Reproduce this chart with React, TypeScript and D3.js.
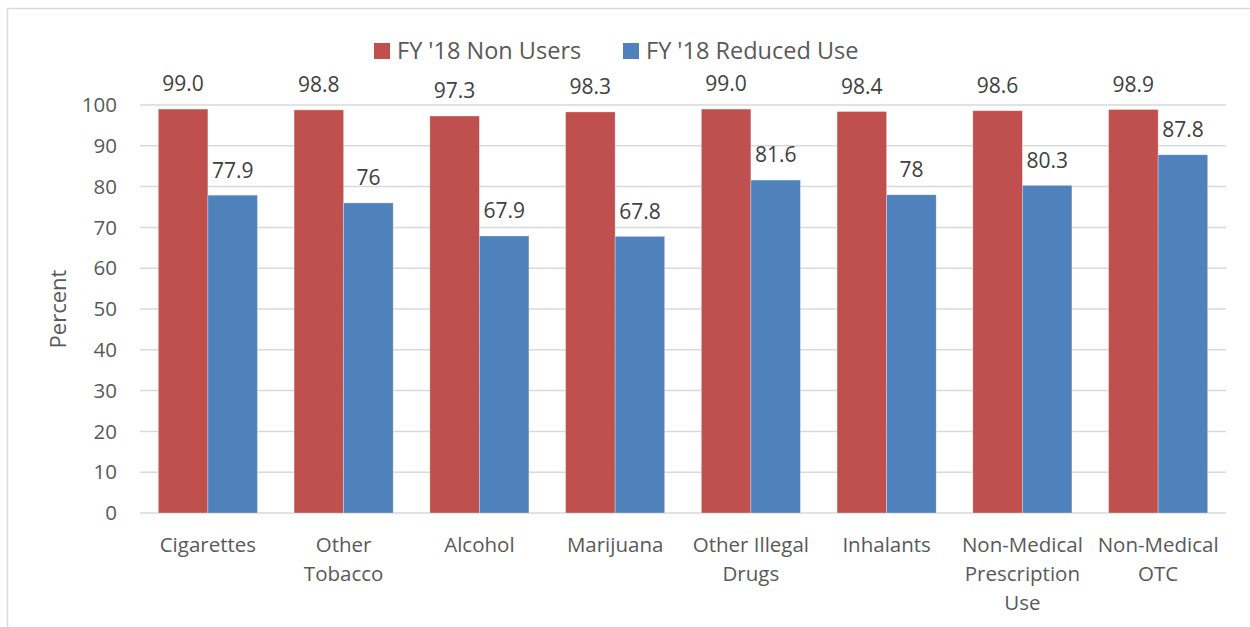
import * as d3 from "d3";
import { useEffect, useRef } from "react";

const categories = [
  ["Cigarettes"],
  ["Other", "Tobacco"],
  ["Alcohol"],
  ["Marijuana"],
  ["Other Illegal", "Drugs"],
  ["Inhalants"],
  ["Non-Medical", "Prescription", "Use"],
  ["Non-Medical", "OTC"],
];
const nonUsers = [99.0, 98.8, 97.3, 98.3, 99.0, 98.4, 98.6, 98.9];
const reducedUse = [77.9, 76, 67.9, 67.8, 81.6, 78, 80.3, 87.8];
const nonUsersLabels = ["99.0", "98.8", "97.3", "98.3", "99.0", "98.4", "98.6", "98.9"];
const reducedLabels = ["77.9", "76", "67.9", "67.8", "81.6", "78", "80.3", "87.8"];
const seriesNames = ["FY '18 Non Users", "FY '18 Reduced Use"];
const colors = ["#C0504D", "#4F81BD"];
const yTicks = [0, 10, 20, 30, 40, 50, 60, 70, 80, 90, 100];

const FONT = "'Open Sans', sans-serif";

export default function App() {
  const ref = useRef<SVGSVGElement>(null);

  useEffect(() => {
    if (!ref.current) return;
    document.body.style.margin = "0";
    const svg = d3.select(ref.current);
    svg.selectAll("*").remove();

    const width = 1250;
    const height = 627;
    const margin = { left: 140, right: 24, top: 105, bottom: 114 };

    svg.append("rect").attr("width", width).attr("height", height).attr("fill", "#fff");

    // chart frame
    svg
      .append("rect")
      .attr("x", 7.5)
      .attr("y", 8.5)
      .attr("width", width + 20)
      .attr("height", height + 20)
      .attr("fill", "none")
      .attr("stroke", "#d9d9d9")
      .attr("stroke-width", 1.5);

    const x = d3
      .scaleBand<number>()
      .domain(d3.range(categories.length))
      .range([margin.left, width - margin.right])
      .paddingInner(0.27)
      .paddingOuter(0.135);

    const x1 = d3
      .scaleBand<number>()
      .domain([0, 1])
      .range([0, x.bandwidth()]);

    const y = d3
      .scaleLinear()
      .domain([0, 100])
      .range([height - margin.bottom, margin.top]);

    // gridlines
    svg
      .append("g")
      .selectAll("line")
      .data(yTicks)
      .join("line")
      .attr("x1", margin.left)
      .attr("x2", width - margin.right)
      .attr("y1", (d) => y(d))
      .attr("y2", (d) => y(d))
      .attr("stroke", "#d9d9d9")
      .attr("stroke-width", 1.5);

    // y tick labels
    svg
      .append("g")
      .selectAll("text")
      .data(yTicks)
      .join("text")
      .attr("x", 117)
      .attr("y", (d) => y(d))
      .attr("dy", "0.35em")
      .attr("text-anchor", "end")
      .style("font-family", FONT)
      .style("font-size", "20.5px")
      .style("fill", "#595959")
      .text((d) => d);

    // y title
    svg
      .append("text")
      .attr("transform", `translate(58,${(y(0) + y(100)) / 2}) rotate(-90)`)
      .attr("text-anchor", "middle")
      .attr("dy", "0.35em")
      .style("font-family", FONT)
      .style("font-size", "22px")
      .style("fill", "#595959")
      .text("Percent");

    const series = [
      { values: nonUsers, labels: nonUsersLabels },
      { values: reducedUse, labels: reducedLabels },
    ];

    series.forEach((s, si) => {
      const g = svg.append("g");
      g.selectAll("rect")
        .data(s.values)
        .join("rect")
        .attr("x", (_, i) => x(i)! + x1(si)!)
        .attr("y", (d) => y(d))
        .attr("width", x1.bandwidth())
        .attr("height", (d) => y(0) - y(d))
        .attr("fill", colors[si])
        .attr("stroke", "#ffffff")
        .attr("stroke-opacity", 0.4)
        .attr("stroke-width", 0.75);

      g.selectAll("text")
        .data(s.values)
        .join("text")
        .attr("x", (_, i) => x(i)! + x1(si)! + x1.bandwidth() / 2)
        .attr("y", (d) => y(d) - 25)
        .attr("dy", "0.35em")
        .attr("text-anchor", "middle")
        .style("font-family", FONT)
        .style("font-size", "21px")
        .style("fill", "#404040")
        .text((_, i) => s.labels[i]);
    });

    // category labels
    const cat = svg
      .append("g")
      .selectAll("text")
      .data(categories)
      .join("text")
      .attr("x", (_, i) => x(i)! + x.bandwidth() / 2)
      .attr("y", 552)
      .attr("text-anchor", "middle")
      .style("font-family", FONT)
      .style("font-size", "20.5px")
      .style("fill", "#595959");
    cat
      .selectAll("tspan")
      .data((d) => d)
      .join("tspan")
      .attr("x", function () {
        return (this.parentNode as SVGTextElement).getAttribute("x");
      })
      .attr("dy", (_, i) => (i === 0 ? 0 : 29))
      .text((d) => d);

    // legend
    const legendX = [374, 623];
    const legend = svg
      .append("g")
      .selectAll("g")
      .data(seriesNames)
      .join("g")
      .attr("transform", (_, i) => `translate(${legendX[i]},43)`);
    legend
      .append("rect")
      .attr("width", 16)
      .attr("height", 16)
      .attr("fill", (_, i) => colors[i]);
    legend
      .append("text")
      .attr("x", 23)
      .attr("y", 8)
      .attr("dy", "0.35em")
      .style("font-family", FONT)
      .style("font-size", "23.5px")
      .style("fill", "#595959")
      .text((d) => d);
  }, []);

  return <svg ref={ref} width={1250} height={627} style={{ display: "block" }} />;
}
